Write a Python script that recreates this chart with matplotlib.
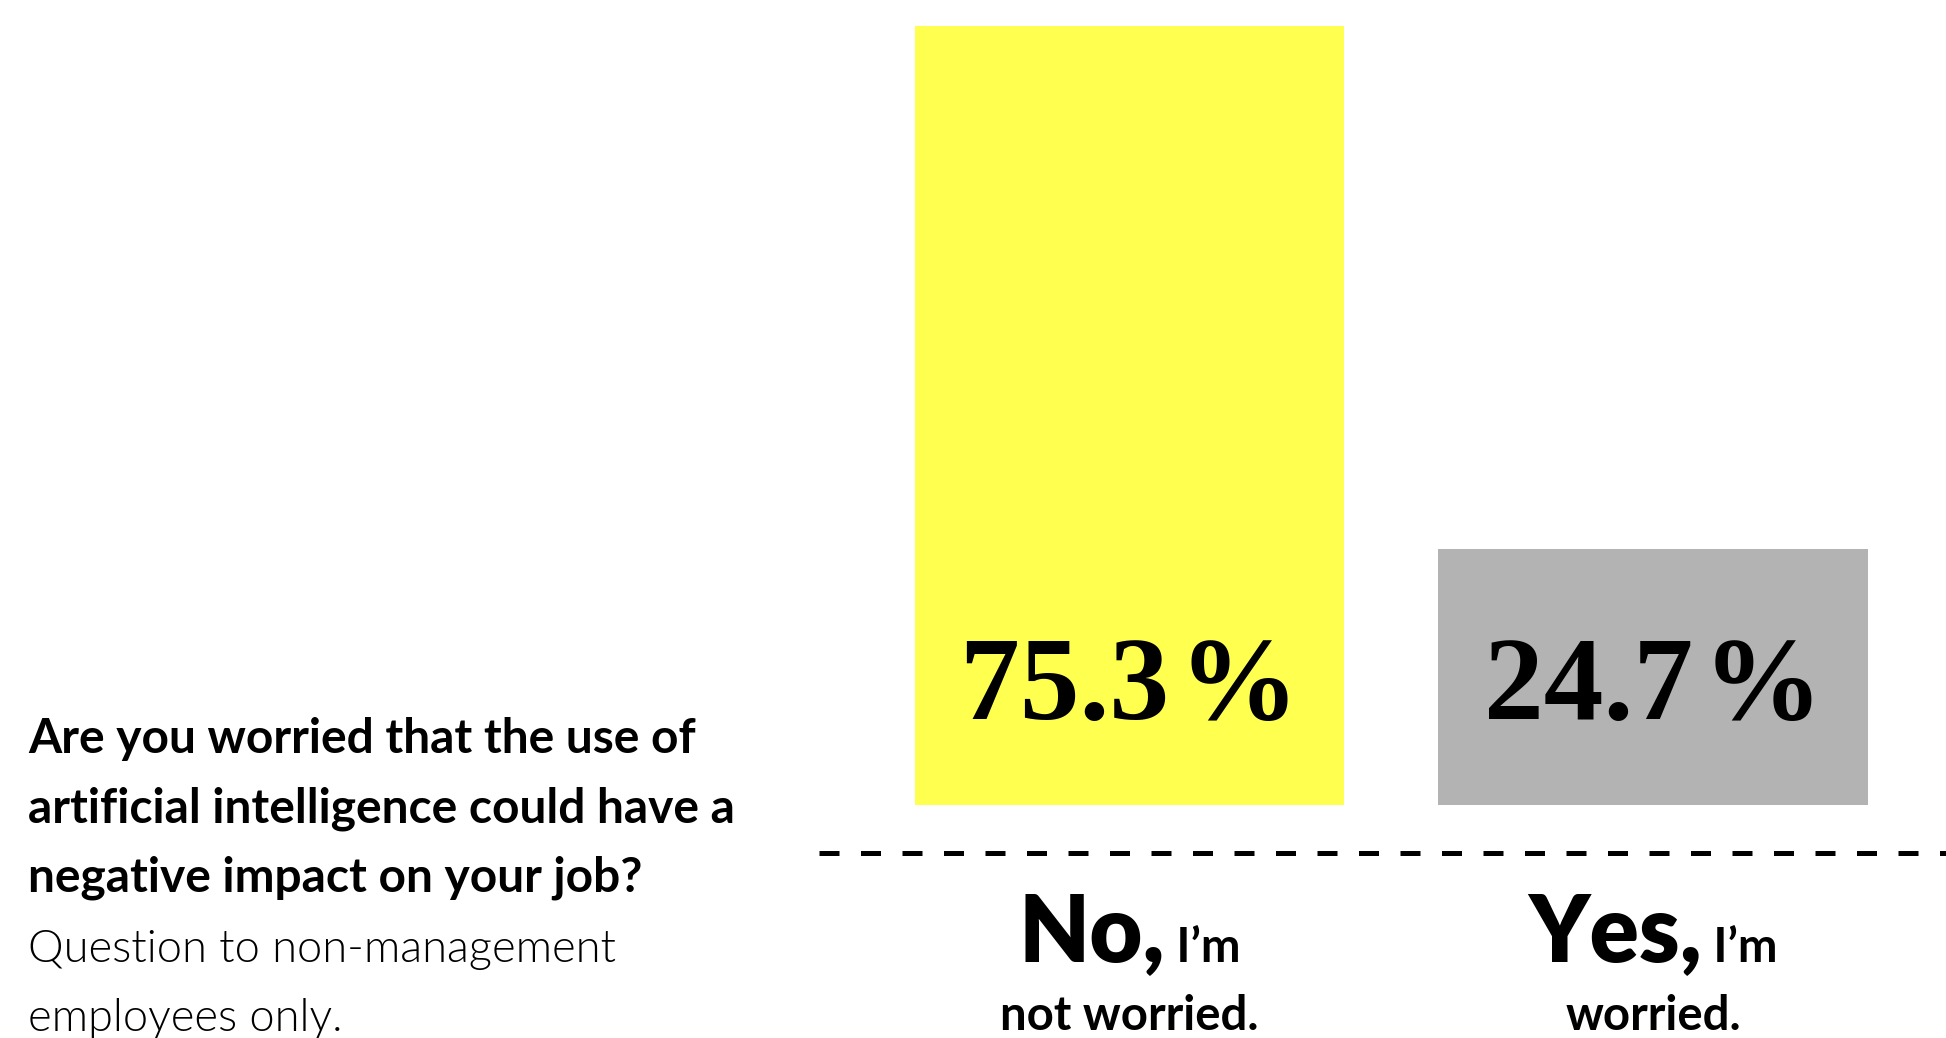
import matplotlib
matplotlib.use("Agg")
from matplotlib import pyplot as plt
import numpy as np

# survey shares, in percent
answers = ["No", "Yes"]
shares = [75.3, 24.7]
bar_colors = ["#FFFF4F", "#B3B3B3"]
answer_heads = ["No,", "Yes,"]
answer_tails = ["I\u2019m", "I\u2019m"]
answer_second = ["not worried.", "worried."]

question = ["Are you worried that the use of",
            "artificial intelligence could have a",
            "negative impact on your job?"]
note = ["Question to non-management", "employees only."]

W, H = 1946, 1038
fig = plt.figure(figsize=(W / 100, H / 100), dpi=100)
ax = fig.add_axes([0, 0, 1, 1])

# one unit on x is the bar spacing, y runs in percent
x = np.arange(len(answers))
ax.bar(x, shares, width=0.82, color=bar_colors)
ax.set_xlim(-2.1576, 1.5597)
ax.set_ylim(-22.51, 77.78)
ax.axis("off")

ax.axhline(-4.64, xmin=819 / W, xmax=1, color="black", lw=3.6,
           linestyle=(0, (4, 4.3)))

for xi, v in zip(x, shares):
    ax.text(xi, 8.3, f"{v:.1f}\u200a%", ha="center", va="baseline",
            family="Liberation Serif", weight="bold", fontsize=86)

# big answer word followed by a smaller tail on the same baseline
heads, tails = [], []
for xi, h, t, s in zip(x, answer_heads, answer_tails, answer_second):
    heads.append(ax.text(xi, -15.14, h, ha="right", va="baseline",
                         family="Lato", weight="heavy", fontsize=66))
    tails.append(ax.text(xi, -15.14, " " + t, ha="left", va="baseline",
                         family="Lato", weight="bold", fontsize=34))
    ax.text(xi, -21.74, s, ha="center", va="baseline",
            family="Lato", weight="bold", fontsize=34)

fig.canvas.draw()
r = fig.canvas.get_renderer()
for xi, a, b in zip(x, heads, tails):
    w1 = a.get_window_extent(r).width
    w2 = b.get_window_extent(r).width
    split = xi + (w1 - (w1 + w2) / 2) / 523.5
    a.set_x(split)
    b.set_x(split)

y0 = 1 - 753 / H
step = 69.5 / H
for i, line in enumerate(question):
    fig.text(28 / W, y0 - i * step, line, ha="left", va="baseline",
             family="Lato", weight="bold", fontsize=34.5)
for i, line in enumerate(note):
    fig.text(28 / W, y0 - (i + 3) * step, line, ha="left", va="baseline",
             family="Lato", weight=300, fontsize=32.5)

fig.savefig("out.png", dpi=100)
